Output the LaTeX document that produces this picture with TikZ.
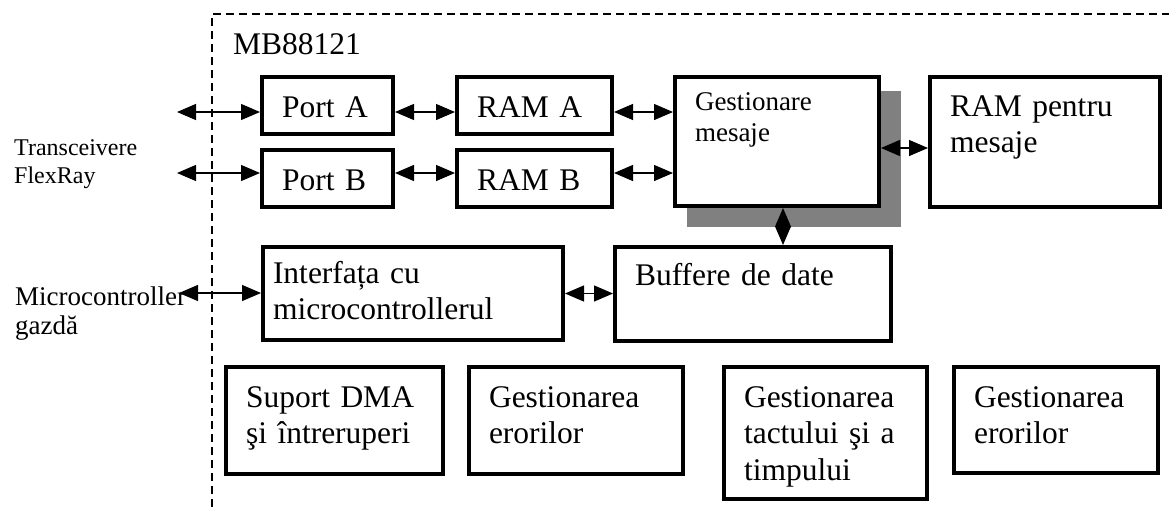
\documentclass[tikz,border=0pt]{standalone}
\usepackage{fontspec}
\setmainfont{Liberation Serif}
\usetikzlibrary{arrows.meta,shadows}

\begin{document}
\begin{tikzpicture}[
    x=1pt, y=-1pt,
    blk/.style={draw, line width=4pt, fill=white, anchor=north west, align=left,
        inner xsep=20pt, inner ysep=0pt, text height=40pt,
        font=\fontsize{31.5}{36.5}\selectfont},
    txt/.style={anchor=base west, inner sep=0pt, align=left},
    biarr/.style={{Triangle[length=19pt,width=16pt]}-{Triangle[length=19pt,width=16pt]}, line width=1.3pt}
]
\useasboundingbox (0,0) rectangle (1169,507);

% Chip border
\draw[dash pattern=on 8pt off 5pt, line width=1.5pt] (212,507) -- (212,14) -- (1169,14);
\node[txt, font=\fontsize{31.5}{36.5}\selectfont] (chip) at (233,54) {MB88121};

% Outside
\node[txt, text width=140pt, font=\fontsize{24}{28}\selectfont] (trx) at (14,155) {Transceivere\\FlexRay};
\node[txt, text width=200pt, font=\fontsize{27}{29}\selectfont] (host) at (15,305) {Microcontroller\\gazdă};

% Ports and RAM
\node[blk, text width=91pt, text depth=17pt] (porta) at (260,75) {Port A};
\node[blk, text width=91pt, text depth=17pt] (portb) at (260,148) {Port B};
\node[blk, text width=115pt, text depth=17pt] (rama) at (455,75) {RAM A};
\node[blk, text width=115pt, text depth=17pt] (ramb) at (455,148) {RAM B};
\node[blk, text width=164pt, text height=33pt, text depth=96pt, font=\fontsize{27}{31}\selectfont,
    drop shadow={shadow xshift=16.5pt, shadow yshift=-16.5pt, shadow scale=1.05, fill=gray, opacity=1}]
    (gest) at (673,75) {Gestionare\\mesaje};
\node[blk, text width=190pt, text height=39pt, text depth=91pt] (ramm) at (928,75) {RAM pentru\\mesaje};

% Data path
\node[blk, inner xsep=10pt, text width=280pt, text height=36pt, text depth=57pt] (intf) at (261,245) {Interfața cu\\microcontrollerul};
\node[blk, text width=236pt, text height=38pt, text depth=56pt] (buf) at (613,245) {Buffere de date};

% Other modules
\node[blk, text width=177pt, text depth=67pt] (dma) at (224,365) {Suport DMA\\şi întreruperi};
\node[blk, text width=174pt, text depth=67pt] (err1) at (467,365) {Gestionarea\\erorilor};
\node[blk, text width=163pt, text depth=92pt] (clk) at (722,365) {Gestionarea\\tactului şi a\\timpului};
\node[blk, text width=164pt, text depth=66pt] (err2) at (952,365) {Gestionarea\\erorilor};

% Arrows
\coordinate (ta) at (177,112);
\coordinate (tb) at (177,173);
\coordinate (mc) at (179,293);
\draw[biarr] (ta) -- (ta -| porta.west);
\draw[biarr] (tb) -- (tb -| portb.west);
\draw[biarr] (ta -| porta.east) -- (ta -| rama.west);
\draw[biarr] (tb -| portb.east) -- (tb -| ramb.west);
\draw[biarr] (ta -| rama.east) -- (ta -| gest.west);
\draw[biarr] (tb -| ramb.east) -- (tb -| gest.west);
\draw[biarr] ([yshift=-6.5pt]gest.east) -- ([yshift=-6.5pt]gest.east -| ramm.west);
\draw[biarr] ([xshift=6pt]gest.south) -- ([xshift=6pt]gest.south |- buf.north);
\draw[biarr] (mc) -- (mc -| intf.west);
\draw[biarr] (intf.east) -- (intf.east -| buf.west);

\end{tikzpicture}
\end{document}
